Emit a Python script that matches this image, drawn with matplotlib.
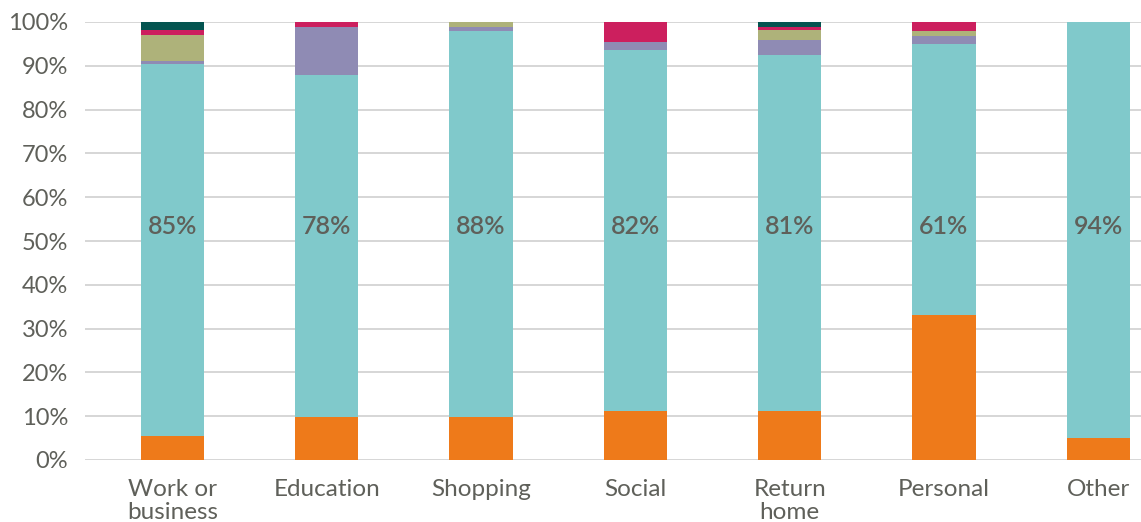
import numpy as np
import matplotlib.pyplot as plt

plt.rcParams['font.family'] = ['Lato', 'DejaVu Sans']

categories = ['Work or\nbusiness', 'Education', 'Shopping', 'Social', 'Return\nhome', 'Personal', 'Other']

# shares (%) per segment, bottom to top
orange = [5.5, 9.8, 9.8, 11.2, 11.2, 33.1, 5.1]
teal = [84.9, 78.1, 88.1, 82.4, 81.2, 61.9, 94.9]
purple = [0.7, 11.0, 0.9, 1.9, 3.4, 1.8, 0.0]
olive = [5.9, 0.0, 1.2, 0.0, 2.3, 1.1, 0.0]
crimson = [1.1, 1.1, 0.0, 4.5, 0.8, 2.1, 0.0]
darkgreen = [1.9, 0.0, 0.0, 0.0, 1.1, 0.0, 0.0]

teal_labels = ['85%', '78%', '88%', '82%', '81%', '61%', '94%']

series = [orange, teal, purple, olive, crimson, darkgreen]
colors = ['#EE7A1A', '#80C9CB', '#8F8BB4', '#AEB27A', '#CC1F5E', '#045450']

text_col = '#5F605A'

fig = plt.figure(figsize=(11.41, 5.22), dpi=100)
ax = fig.add_axes([85 / 1141, 62 / 522, 1 - 85 / 1141, 438 / 522])

x = np.arange(len(categories))
bottom = np.zeros(len(categories))
for vals, c in zip(series, colors):
    v = np.array(vals)
    ax.bar(x, v, 0.41, bottom=bottom, color=c, zorder=2)
    bottom += v

for i, lab in enumerate(teal_labels):
    ax.text(x[i], 53.4, lab, ha='center', va='center', fontsize=18,
            fontweight='semibold', color=text_col, zorder=3)

ax.set_xlim(-0.567, 6.277)
ax.set_ylim(0, 100)
ax.set_yticks(np.arange(0, 101, 10))
ax.set_yticklabels([f'{v}%' for v in range(0, 101, 10)], fontsize=17)
ax.set_xticks(x)
ax.set_xticklabels(categories, linespacing=1.1, fontsize=17.5)
ax.tick_params(axis='both', length=0, labelcolor=text_col)
ax.tick_params(axis='y', pad=12)
ax.tick_params(axis='x', pad=14)
ax.yaxis.grid(True, color='#D3D3D3', linewidth=1.3, zorder=0)
ax.set_axisbelow(True)
for s in ax.spines.values():
    s.set_visible(False)

plt.savefig('out.png', dpi=100)
